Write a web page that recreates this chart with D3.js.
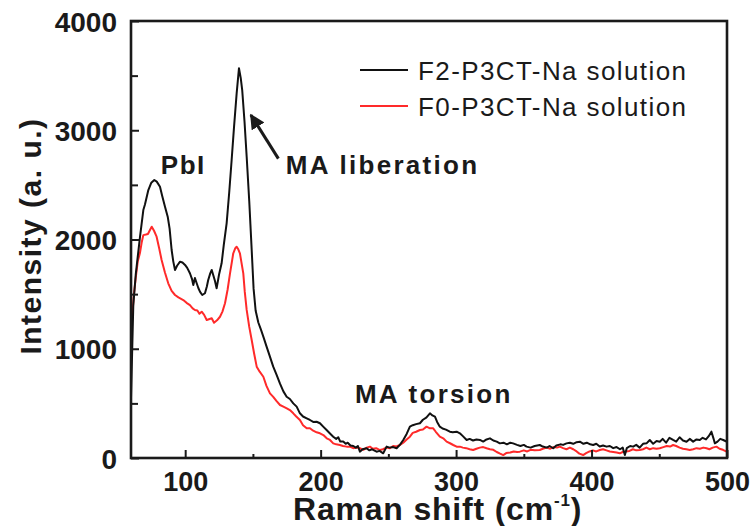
<!DOCTYPE html>
<html>
<head>
<meta charset="utf-8">
<script src="https://cdn.jsdelivr.net/npm/d3@7/dist/d3.min.js"></script>
<style>
  html, body { margin: 0; padding: 0; background: #fff; }
  svg { display: block; font-family: "Liberation Sans", Arial, sans-serif; }
</style>
</head>
<body>
<div id="chart"></div>
<script>
// Raman spectra, values
const f2Shift = [60,60.8,61.7,63.5,65.4,66.6,69.1,70.3,72.8,75,77.2,79,81.4,83,85.1,87.1,88.5,90,91.2,92.5,94,96.2,98,99.9,101.5,103.5,105,106,107.2,108.5,109.7,111,112.6,114.6,116,117,118.5,119.6,120.7,122,123.2,125,126.9,128.5,130.6,132.5,134.3,136,138,139.7,141,142.1,143.8,145.4,147.3,149.1,150.5,152,154,156,158,160.1,162.5,165,167.5,170,172.5,174.9,177.3,179.8,182.3,184.7,187,189.7,192.1,194.5,197,199.5,201.9,204.4,206.9,209.3,211.5,213,214.5,216.7,218.5,220,222,224.1,226,227.5,229,231,233.9,236,238,241.3,243.5,246.2,248.7,251,253.5,256.1,258.5,261,263.5,265.9,268,270.5,273.3,275.5,278,280.7,282.5,284.4,286,288,290,292.5,295.4,297.5,300.4,302.8,305,307.8,310,312.5,315,317.6,320,322.5,325,327.5,330,332.3,335,337.5,340,342.1,345,347.5,350,352,355,358,361.8,364,367,369,371.7,374,377,379,381.5,384,386.5,389,391.4,394,396.5,399,401.2,403.5,406,408.5,411.1,413.5,416,418.5,421,423,424.6,426,428.5,430.7,433,435.5,438,440.6,443,445.5,448,450.4,452.5,455,457.5,460.2,462.5,465,467.5,470.1,472.5,475,477.5,479.9,482,484.5,486.5,488.5,490,491,493,495,497.2,500];
const f2Intensity = [550,950,1400,1680,1890,2020,2270,2320,2453,2520,2545,2530,2483,2400,2300,2209,2100,1904,1800,1721,1760,1797,1790,1767,1740,1691,1640,1584,1647,1600,1556,1520,1492,1508,1570,1629,1690,1721,1675,1620,1553,1680,1782,1950,2148,2430,2728,3020,3338,3567,3480,3368,3080,2758,2350,1904,1550,1350,1240,1172,1100,1019,930,836,760,680,610,561,540,500,470,409,380,363,348,330,332,318,287,256,225,195,175,190,150,150,130,140,115,110,95,110,58,80,89,70,80,58,65,43,104,95,100,89,120,165,220,287,300,310,318,350,370,409,390,378,330,287,270,260,241,235,241,226,200,165,175,160,170,165,150,170,180,160,150,134,140,125,140,134,120,110,120,104,95,110,119,105,95,110,89,115,125,120,134,140,130,145,149,130,140,125,119,130,105,115,104,110,90,100,80,95,27,90,110,104,120,95,130,134,165,130,155,149,175,140,185,165,150,190,160,149,175,150,170,165,185,170,200,241,180,134,150,175,165,149];

const f0Shift = [60,61,62,63.5,65,66.6,68,69.1,71,72.5,74,75.3,77,78.9,80.8,82.6,85,87.5,90,92.5,95,98.6,101,103.5,105.5,107.2,109,110.5,112.2,114,115.9,117.5,119.6,121.3,123.5,125.7,127.5,129.4,131.3,133.1,135.5,137,138,139.2,140.4,142.9,144,145.4,147.3,149.1,151,152.8,155,157.7,160,162.6,165,167.5,170,172.5,175,177.3,179.8,182,184.7,187,189.7,192.1,194.5,197,199.5,202,204.5,206.9,209.3,211.5,214.2,216.5,219.2,221.6,224,226.5,229,231.5,234,236.4,238.5,241,243.8,246,248.5,251.1,253.5,256,258.5,261,263.5,265.9,268,270.5,273.3,275.5,278.2,280.7,283.1,285,288,290.5,293,295.5,297.9,300.4,302.8,305,307.5,310,312.6,315,317.5,320,322.5,325,327.5,330,332.5,334.8,337,340,342.5,345,347.1,350,352.5,355,358,361.8,364,367,369.5,372,374.5,376.6,379,381.5,384,386.5,389,391,393.8,396,398.5,401,403.5,406.1,408.5,411,413.5,416,418.5,420.9,423,425.5,428,430.5,433,435.6,438,440.5,443,445.5,448,450.4,453,455.5,458,460.2,462.5,465,467.5,470,472.5,475,477.5,480,482.5,484.9,487,489.5,492.2,494.5,497,499.7];
const f0Intensity = [1100,1300,1480,1650,1800,1876,1980,2040,2045,2050,2087,2117,2080,2026,1920,1812,1700,1599,1530,1492,1470,1446,1420,1400,1370,1355,1350,1320,1339,1310,1263,1270,1279,1238,1260,1293,1340,1416,1540,1690,1874,1920,1934,1910,1874,1690,1520,1355,1200,1080,950,836,790,744,660,592,560,520,485,470,455,439,409,380,348,300,272,272,250,235,226,210,180,165,134,125,119,110,104,104,90,95,89,75,95,104,85,90,73,80,95,89,110,105,119,140,170,195,230,240,256,260,287,272,272,240,195,180,150,135,119,104,104,95,90,80,73,85,95,100,89,80,75,55,40,27,45,50,60,55,58,70,60,75,70,73,85,95,85,100,95,104,90,80,95,80,60,40,27,45,60,70,60,73,80,70,60,55,50,43,55,60,65,80,70,73,80,95,80,90,85,89,100,110,105,119,110,95,85,80,73,80,90,85,95,89,80,95,104,85,75,58];

const xTicks = [100, 200, 300, 400, 500];
const yTicks = [0, 1000, 2000, 3000, 4000];
const seriesNames = ["F2-P3CT-Na solution", "F0-P3CT-Na solution"];
const seriesColors = ["#111111", "#ff2a2a"];

const width = 753, height = 526;
const margin = { top: 21, right: 26, bottom: 68, left: 131 };
const innerWidth = width - margin.left - margin.right;
const innerHeight = height - margin.top - margin.bottom;

const svg = d3.select("#chart").append("svg")
  .attr("width", width)
  .attr("height", height);

const g = svg.append("g")
  .attr("transform", `translate(${margin.left},${margin.top})`);

const x = d3.scaleLinear().domain([60, 500]).range([0, innerWidth]);
const y = d3.scaleLinear().domain([0, 4000]).range([innerHeight, 0]);

g.append("defs").append("clipPath").attr("id", "clip")
  .append("rect").attr("width", innerWidth).attr("height", innerHeight);

const line = d3.line().x(d => x(d[0])).y(d => y(d[1]));

const series = [
  d3.zip(f2Shift, f2Intensity),
  d3.zip(f0Shift, f0Intensity)
];

// red drawn first so black sits on top
g.append("g").attr("clip-path", "url(#clip)")
  .selectAll("path")
  .data([1, 0])
  .join("path")
    .attr("d", i => line(series[i]))
    .attr("fill", "none")
    .attr("stroke", i => seriesColors[i])
    .attr("stroke-width", 2)
    .attr("stroke-linejoin", "round");

// ticks: major + minor, pointing inward
const xAxis = d3.axisBottom(x).tickValues(xTicks).tickSize(-8).tickPadding(14).tickFormat(d3.format("d"));
const xMinor = d3.axisBottom(x).tickValues([150, 250, 350, 450]).tickSize(-4).tickFormat("");
const yAxis = d3.axisLeft(y).tickValues(yTicks).tickSize(-8).tickPadding(14).tickFormat(d3.format("d"));
const yMinor = d3.axisLeft(y).tickValues([500, 1500, 2500, 3500]).tickSize(-7).tickFormat("");

function styleAxis(sel) {
  sel.select(".domain").remove();
  sel.selectAll("line").attr("stroke", "#1a1a1a").attr("stroke-width", 2);
  sel.selectAll("text")
    .attr("fill", "#1a1a1a")
    .attr("font-size", 28)
    .attr("font-weight", "bold");
}

g.append("g").attr("transform", `translate(0,${innerHeight})`).call(xAxis).call(styleAxis)
  .selectAll("text").attr("font-size", 27).attr("dy", "0.71em");
g.append("g").attr("transform", `translate(0,${innerHeight})`).call(xMinor).call(styleAxis);
g.append("g").call(yAxis).call(styleAxis).selectAll("text").attr("dy", "0.36em");
g.append("g").call(yMinor).call(styleAxis);

// frame
g.append("rect")
  .attr("width", innerWidth)
  .attr("height", innerHeight)
  .attr("fill", "none")
  .attr("stroke", "#1a1a1a")
  .attr("stroke-width", 2.6);

// axis titles
const xTitle = svg.append("text")
  .attr("x", 293)
  .attr("y", 520)
  .attr("fill", "#1a1a1a")
  .attr("font-size", 32)
  .attr("font-weight", "bold")
  .attr("letter-spacing", 0.8);
xTitle.append("tspan").text("Raman shift (cm");
xTitle.append("tspan").attr("font-size", 17).attr("dy", -14).text("-1");
xTitle.append("tspan").attr("dy", 14).text(")");

svg.append("text")
  .attr("transform", "translate(41,236) rotate(-90)")
  .attr("text-anchor", "middle")
  .attr("fill", "#1a1a1a")
  .attr("font-size", 30)
  .attr("font-weight", "bold")
  .attr("letter-spacing", 1.5)
  .text("Intensity (a. u.)");

// legend
const legend = g.append("g").attr("transform", `translate(${360 - margin.left},${70 - margin.top})`);
seriesNames.forEach((name, i) => {
  const row = legend.append("g").attr("transform", `translate(0,${i * 36})`);
  row.append("line")
    .attr("x1", 0).attr("x2", 48)
    .attr("stroke", seriesColors[i]).attr("stroke-width", 2);
  row.append("text")
    .attr("x", 58).attr("y", 10)
    .attr("fill", "#1a1a1a")
    .attr("font-size", 26)
    .attr("letter-spacing", 1.4)
    .text(name);
});

// peak annotations
const notes = [
  { text: "PbI", px: 82, py: 2600 },
  { text: "MA liberation", px: 174.3, py: 2600 },
  { text: "MA torsion", px: 225.3, py: 500 }
];
g.selectAll(".note")
  .data(notes)
  .join("text")
    .attr("class", "note")
    .attr("x", d => x(d.px))
    .attr("y", d => y(d.py))
    .attr("fill", "#1a1a1a")
    .attr("font-size", 26)
    .attr("font-weight", "bold")
    .attr("letter-spacing", d => d.text === "PbI" ? 1.5 : 2.3)
    .text(d => d.text);

// arrow pointing at the liberation peak
svg.append("defs").append("marker")
  .attr("id", "arrowhead")
  .attr("viewBox", "0 0 10 10")
  .attr("refX", 9).attr("refY", 5)
  .attr("markerWidth", 5).attr("markerHeight", 5)
  .attr("orient", "auto")
  .append("path").attr("d", "M0,0 L10,5 L0,10 z").attr("fill", "#1a1a1a");

g.append("line")
  .attr("x1", x(168.8)).attr("y1", y(2740))
  .attr("x2", x(148.5)).attr("y2", y(3140))
  .attr("stroke", "#1a1a1a")
  .attr("stroke-width", 3)
  .attr("marker-end", "url(#arrowhead)");
</script>
</body>
</html>
